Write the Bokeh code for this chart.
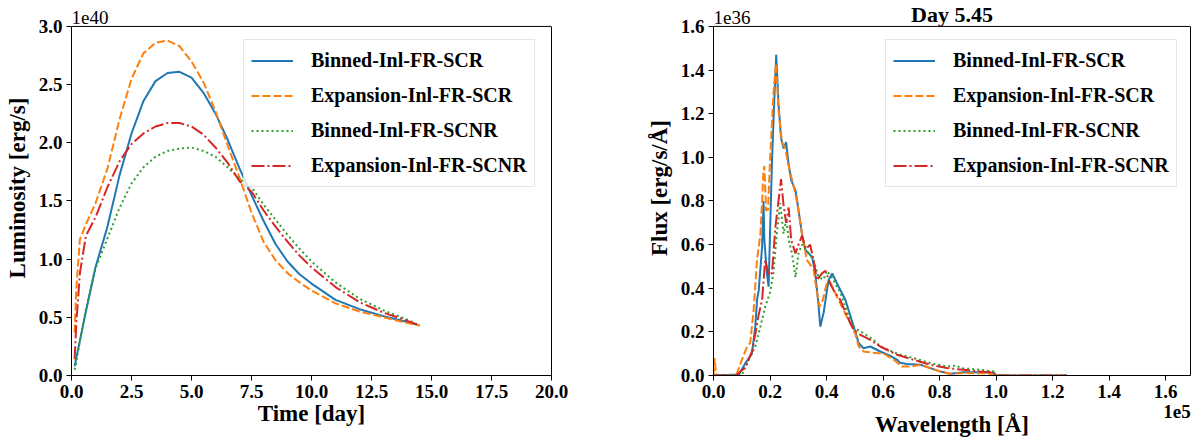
from bokeh.plotting import figure
from bokeh.layouts import row
from bokeh.models import (Range1d, FixedTicker, PrintfTickFormatter, Label, LinearAxis, Span,
                          CustomJSTickFormatter)
from bokeh.embed import file_html
from bokeh.resources import INLINE

FONT = "Liberation Serif"

# ---------------- Left panel data: luminosity (units of 1e40 erg/s) ----------------
time_day = [0.13, 0.2, 0.35, 0.6, 1.0, 1.5, 2.0, 2.5, 3.0, 3.5, 4.0, 4.5, 5.0, 5.5, 6.0,
            6.5, 7.0, 7.5, 8.0, 8.5, 9.0, 9.5, 10.0, 11.0, 12.0, 13.0, 14.0, 14.5]
lum_binned_scr = [0.08, 0.15, 0.30, 0.55, 0.93, 1.28, 1.72, 2.08, 2.36, 2.53, 2.60, 2.61, 2.56, 2.43,
                  2.25, 2.03, 1.78, 1.55, 1.33, 1.13, 0.98, 0.87, 0.79, 0.65, 0.57, 0.51, 0.46, 0.43]
lum_expansion_scr = [0.37, 0.75, 1.17, 1.30, 1.48, 1.78, 2.20, 2.55, 2.77, 2.86, 2.88, 2.83, 2.70, 2.52,
                     2.27, 1.98, 1.70, 1.40, 1.15, 0.99, 0.88, 0.80, 0.73, 0.62, 0.55, 0.50, 0.45, 0.43]
lum_binned_scnr = [0.05, 0.12, 0.30, 0.57, 0.92, 1.18, 1.44, 1.65, 1.79, 1.88, 1.93, 1.95, 1.96, 1.93,
                   1.88, 1.79, 1.69, 1.62, 1.47, 1.34, 1.21, 1.09, 0.98, 0.80, 0.66, 0.56, 0.48, 0.43]
lum_expansion_scnr = [0.14, 0.45, 0.88, 1.20, 1.36, 1.62, 1.84, 1.99, 2.08, 2.14, 2.17, 2.17, 2.14, 2.07,
                      1.96, 1.83, 1.67, 1.58, 1.42, 1.28, 1.15, 1.03, 0.93, 0.76, 0.63, 0.54, 0.47, 0.43]

time_ticks = [0, 2.5, 5, 7.5, 10, 12.5, 15, 17.5, 20]
lum_ticks = [0, 0.5, 1.0, 1.5, 2.0, 2.5, 3.0]

# ---------------- Right panel data: flux (1e36 erg/s/A) vs wavelength (1e5 A) ----------------
wl_binned_scr = [0.0, 0.09, 0.113, 0.136, 0.148, 0.154, 0.16, 0.172, 0.177, 0.18, 0.189, 0.195, 0.207,
                 0.216, 0.222, 0.23, 0.239, 0.248, 0.257, 0.264, 0.275, 0.283, 0.29, 0.301, 0.313, 0.325,
                 0.349, 0.36, 0.37, 0.378, 0.39, 0.407, 0.42, 0.443, 0.467, 0.496, 0.514, 0.531, 0.555,
                 0.59, 0.626, 0.65, 0.66, 0.685, 0.732, 0.767, 0.803, 0.838, 0.885, 0.956, 0.992, 1.0, 1.25]
fx_binned_scr = [0.0, 0.005, 0.057, 0.10, 0.224, 0.346, 0.39, 0.59, 0.80, 0.62, 0.468, 0.407, 0.986,
                 1.29, 1.47, 1.245, 1.09, 1.04, 1.07, 0.986, 0.895, 0.87, 0.849, 0.757, 0.65, 0.575,
                 0.544, 0.468, 0.346, 0.224, 0.29, 0.437, 0.468, 0.407, 0.346, 0.224, 0.148, 0.125, 0.133,
                 0.11, 0.09, 0.072, 0.058, 0.053, 0.049, 0.034, 0.018, 0.008, 0.015, 0.015, 0.011, 0.0, 0.0]

wl_expansion_scr = [0.0, 0.004, 0.008, 0.012, 0.08, 0.1, 0.119, 0.13, 0.142, 0.154, 0.166, 0.172, 0.177,
                    0.18, 0.186, 0.193, 0.2, 0.212, 0.221, 0.23, 0.242, 0.254, 0.266, 0.283, 0.295, 0.313,
                    0.33, 0.354, 0.366, 0.375, 0.387, 0.40, 0.412, 0.437, 0.46, 0.484, 0.502, 0.514, 0.531,
                    0.567, 0.602, 0.638, 0.667, 0.696, 0.732, 0.767, 0.803, 0.838, 0.885, 0.968, 1.0, 1.25]
fx_expansion_scr = [0.0, 0.08, 0.02, 0.0, 0.0, 0.07, 0.133, 0.15, 0.3, 0.53, 0.65, 0.8, 0.94,
                    0.96, 0.757, 0.76, 0.986, 1.29, 1.43, 1.22, 1.07, 1.04, 0.96, 0.87, 0.8, 0.65,
                    0.53, 0.486, 0.38, 0.315, 0.346, 0.42, 0.43, 0.361, 0.3, 0.24, 0.19, 0.133, 0.11,
                    0.104, 0.1, 0.072, 0.041, 0.041, 0.049, 0.034, 0.018, 0.008, 0.011, 0.01, 0.0, 0.0]

wl_binned_scnr = [0.0, 0.1, 0.124, 0.148, 0.166, 0.183, 0.2, 0.212, 0.224, 0.236, 0.248, 0.258, 0.266,
                  0.278, 0.29, 0.301, 0.313, 0.337, 0.354, 0.372, 0.39, 0.40, 0.419, 0.449, 0.473, 0.496,
                  0.531, 0.567, 0.59, 0.65, 0.708, 0.767, 0.826, 0.861, 0.873, 0.944, 0.992, 1.0, 1.25]
fx_binned_scnr = [0.0, 0.0, 0.07, 0.133, 0.224, 0.315, 0.38, 0.47, 0.65, 0.79, 0.65, 0.72, 0.62,
                  0.56, 0.45, 0.56, 0.6, 0.56, 0.53, 0.45, 0.44, 0.48, 0.45, 0.38, 0.29, 0.22,
                  0.194, 0.163, 0.133, 0.1, 0.08, 0.057, 0.041, 0.046, 0.034, 0.026, 0.018, 0.0, 0.0]

wl_expansion_scnr = [0.0, 0.08, 0.113, 0.136, 0.148, 0.16, 0.172, 0.183, 0.195, 0.207, 0.219, 0.23, 0.239,
                     0.248, 0.257, 0.266, 0.275, 0.29, 0.301, 0.313, 0.327, 0.342, 0.354, 0.366, 0.384,
                     0.396, 0.413, 0.43, 0.449, 0.473, 0.496, 0.52, 0.555, 0.59, 0.65, 0.708, 0.767, 0.826,
                     0.885, 0.944, 0.992, 1.0, 1.25]
fx_expansion_scnr = [0.0, 0.0, 0.038, 0.11, 0.19, 0.28, 0.346, 0.53, 0.46, 0.47, 0.68, 0.8, 0.9,
                     0.78, 0.7, 0.77, 0.62, 0.56, 0.6, 0.64, 0.58, 0.6, 0.53, 0.437, 0.468,
                     0.48, 0.42, 0.38, 0.346, 0.27, 0.21, 0.186, 0.163, 0.133, 0.095, 0.072, 0.049, 0.034,
                     0.026, 0.018, 0.014, 0.0, 0.0]

wl_ticks = [0, 0.2, 0.4, 0.6, 0.8, 1.0, 1.2, 1.4, 1.6]
flux_ticks = [0, 0.2, 0.4, 0.6, 0.8, 1.0, 1.2, 1.4, 1.6]

series_names = ["Binned-Inl-FR-SCR", "Expansion-Inl-FR-SCR", "Binned-Inl-FR-SCNR", "Expansion-Inl-FR-SCNR"]
colors = ["#1f77b4", "#ff7f0e", "#2ca02c", "#d62728"]
dashes = ["solid", "8 3", "2 3", "13 3 2 3"]

# layout geometry (pixels)
H = 439
BOTTOM = 63          # space below the axes box
BOX_TOP = 26         # top edge of the axes box
FRAME_H = H - BOTTOM  # plotting frame extends to the top of the canvas
BOX_H = FRAME_H - BOX_TOP
EXT = FRAME_H / BOX_H


def style_axis(ax, ticks):
    ax.ticker = FixedTicker(ticks=ticks)
    ax.formatter = PrintfTickFormatter(format="%.1f")
    ax.major_tick_out = 5
    ax.major_tick_in = 0
    ax.minor_tick_line_color = None
    ax.axis_line_color = "black"
    ax.major_tick_line_color = "black"
    ax.major_label_text_font = FONT
    ax.major_label_text_font_style = "bold"
    ax.major_label_text_font_size = "19px"
    ax.major_label_text_color = "black"
    ax.major_label_standoff = 4
    ax.axis_label_text_font = FONT
    ax.axis_label_text_font_style = "bold"
    ax.axis_label_text_font_size = "23px"
    ax.axis_label_text_color = "black"


def make_fig(width, border_left, border_right, x_max, y_max, xticks, yticks, ylabel):
    p = figure(width=width, height=H, output_backend="svg", toolbar_location=None,
               x_range=Range1d(0, x_max), y_range=Range1d(0, y_max * EXT),
               min_border_left=border_left, min_border_right=border_right,
               min_border_top=0, min_border_bottom=BOTTOM)
    p.outline_line_color = None
    p.xgrid.visible = False
    p.ygrid.visible = False
    p.background_fill_color = "white"
    p.border_fill_color = "white"
    style_axis(p.xaxis[0], xticks)
    style_axis(p.yaxis[0], yticks)
    p.yaxis[0].bounds = (0, y_max)
    p.yaxis[0].axis_label = ylabel
    p.yaxis[0].axis_label_standoff = 6
    # right and top edges of the axes box
    rax = LinearAxis(bounds=(0, y_max), ticker=FixedTicker(ticks=[]), axis_line_color="black",
                     major_tick_line_color=None, minor_tick_line_color=None)
    p.add_layout(rax, "right")
    p.add_layout(Span(location=y_max, dimension="width", line_color="black", line_width=1))
    return p


def above_box(y_max, px):
    """data y that lies px pixels above the top edge of the axes box"""
    return y_max + px * y_max / BOX_H


def style_legend(p):
    lg = p.legend[0]
    lg.location = (172, 188)
    lg.label_text_font = FONT
    lg.label_text_font_size = "20px"
    lg.label_text_font_style = "bold"
    lg.label_text_color = "black"
    lg.glyph_width = 42
    lg.glyph_height = 27
    lg.label_height = 27
    lg.label_standoff = 18
    lg.spacing = 8
    lg.padding = 7
    lg.margin = 0
    lg.border_line_color = "#cccccc"
    lg.border_line_width = 1
    lg.background_fill_alpha = 0.8


# ---------------- Left figure ----------------
lum_max = 3.0
p1 = make_fig(600, 71, 49, 20, lum_max, time_ticks, lum_ticks, "Luminosity [erg/s]")
lum_series = [lum_binned_scr, lum_expansion_scr, lum_binned_scnr, lum_expansion_scnr]
for name, c, d, ys in zip(series_names, colors, dashes, lum_series):
    p1.line(time_day, ys, color=c, line_width=2, line_dash=d, legend_label=name)
p1.xaxis[0].axis_label = "Time [day]"
p1.xaxis[0].axis_label_standoff = 0
style_legend(p1)
p1.add_layout(Label(x=0, y=above_box(lum_max, 9), text="1e40", text_font=FONT, text_font_size="19px",
                    text_baseline="alphabetic", text_align="left", text_color="black"))

# ---------------- Right figure ----------------
x_max = 1.688
flux_max = 1.6
p2 = make_fig(601, 113, 11, x_max, flux_max, wl_ticks, flux_ticks, "Flux [erg/s/Å]")
spec = [(wl_binned_scr, fx_binned_scr), (wl_expansion_scr, fx_expansion_scr),
        (wl_binned_scnr, fx_binned_scnr), (wl_expansion_scnr, fx_expansion_scnr)]
for name, c, d, (xs, ys) in zip(series_names, colors, dashes, spec):
    p2.line(xs, ys, color=c, line_width=2, line_dash=d, legend_label=name)
style_legend(p2)
# second bottom axis: carries the "1e5" offset text (right) and the axis label
ax2 = LinearAxis(ticker=FixedTicker(ticks=[1.64]), formatter=CustomJSTickFormatter(code="return '1e5'"),
                 axis_line_color=None, major_tick_line_color=None, minor_tick_line_color=None,
                 major_tick_out=0, major_tick_in=0, major_label_standoff=4,
                 major_label_text_font=FONT, major_label_text_font_style="bold",
                 major_label_text_font_size="19px", major_label_text_color="black",
                 axis_label="Wavelength [Å]", axis_label_standoff=-9,
                 axis_label_text_font=FONT, axis_label_text_font_style="bold",
                 axis_label_text_font_size="23px", axis_label_text_color="black")
p2.add_layout(ax2, "below")
p2.add_layout(Label(x=0, y=above_box(flux_max, 9), text="1e36", text_font=FONT, text_font_size="19px",
                    text_baseline="alphabetic", text_align="left", text_color="black"))
p2.add_layout(Label(x=x_max / 2, y=above_box(flux_max, 12), text="Day 5.45", text_font=FONT,
                    text_font_size="22px", text_font_style="bold", text_baseline="alphabetic",
                    text_align="center", text_color="black"))

layout = row(p1, p2)
open("out.html", "w").write(file_html(layout, INLINE))
